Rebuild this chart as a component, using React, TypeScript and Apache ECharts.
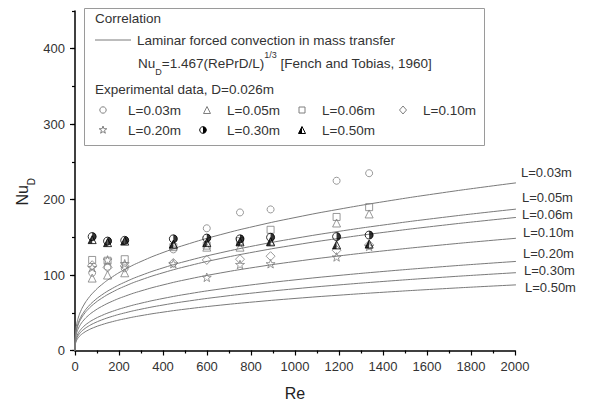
import React, { useEffect, useRef } from 'react';
import * as echarts from 'echarts';

const FONT = 'Arial, "Liberation Sans", Helvetica, sans-serif';

// Correlation: Nu_D = 1.467 (Re Pr D / L)^(1/3)  [Fench and Tobias, 1960]
const COEFF = 1.467;
const D_PIPE = 0.026;
const PR = 2000; // Prandtl (Schmidt) number estimated from the drawn curves
const curveLengths = [0.03, 0.05, 0.06, 0.1, 0.2, 0.3, 0.5];
const curveLabels = ['L=0.03m', 'L=0.05m', 'L=0.06m', 'L=0.10m', 'L=0.20m', 'L=0.30m', 'L=0.50m'];
const curveRe = [0, 0.02, 0.1, 0.3, 0.7, 1.5, 3, 6, 10, 16, 25, 40, 60, 85, 120, 170, 230, 300, 400, 520, 660, 820, 1000, 1200, 1420, 1650, 1880, 2105];

// Experimental data, D = 0.026 m
const expRe = [78, 148, 226, 447, 599, 750, 889, 1189, 1337];
const nuL003 = [103, 111, 109, 134, 162, 183, 187, 225, 235];
const nuL005 = [96, 100, 103, 140, 137, 137, 145, 169, 181];
const nuL006 = [120, 119, 121, 137, 139, 145, 160, 177, 190];
const nuL010 = [113, 110, 112, 116, 120, 121, 125, 133, 140];
const nuL020 = [110, 120, 115, 115, 97, 114, 115, 124, 138];
const nuL030 = [151, 145, 146, 148, 149, 148, 150, 151, 153];
const nuL050 = [147, 143, 145, 141, 143, 144, 144, 140, 141];

const xTickInterval = 200;
const yTickInterval = 100;

// label offsets for the curve end labels (styling only)
const endLabelOffsets = [[0, -10], [1, -12], [1, -3], [2, -6], [2, -8], [3, -2], [4, 3]];

const GRAY = '#7f7f7f';
const CURVE = '#7a7a7a';
const TXT = '#333';

const STAR = 'path://M0,-10L2.351,-3.236L9.511,-3.09L3.804,1.236L5.878,8.09L0,4L-5.878,8.09L-3.804,1.236L-9.511,-3.09L-2.351,-3.236Z';
const HALF_CIRCLE = 'path://M-10,-10L-10,-10M10,10L10,10M0,-10A10,10 0 0 1 0,10Z';
const HALF_TRI = 'path://M-10,-10L-10,-10M10,10L10,10M0,-10L-10,10L0,10Z';

function pairs(vals: number[]) {
  return expRe.map((re, i) => [re, vals[i]]);
}

function openScatter(name: string, vals: number[], symbol: string, size: number) {
  return {
    name,
    type: 'scatter',
    symbol,
    symbolSize: size,
    symbolKeepAspect: true,
    itemStyle: { color: 'rgba(255,255,255,0)', borderColor: GRAY, borderWidth: 1 },
    data: pairs(vals),
    z: 3,
  };
}

function halfScatter(name: string, vals: number[], outline: string, half: string, size: number) {
  return [
    {
      name,
      type: 'scatter',
      symbol: outline,
      symbolSize: size,
      itemStyle: { color: 'rgba(255,255,255,0)', borderColor: '#000', borderWidth: 1 },
      data: pairs(vals),
      z: 4,
    },
    {
      name: name + ' fill',
      type: 'scatter',
      symbol: half,
      symbolSize: size,
      symbolKeepAspect: true,
      itemStyle: { color: '#000', borderWidth: 0 },
      data: pairs(vals),
      z: 4,
    },
  ];
}

function starPts(cx: number, cy: number, R: number) {
  const pts: number[][] = [];
  for (let k = 0; k < 10; k++) {
    const a = -Math.PI / 2 + (k * Math.PI) / 5;
    const r = k % 2 === 0 ? R : R * 0.4;
    pts.push([cx + r * Math.cos(a), cy + r * Math.sin(a)]);
  }
  return pts;
}

function legendIcon(kind: string, cx: number, cy: number): any[] {
  const r = 3.5;
  const open = { fill: 'none', stroke: GRAY, lineWidth: 1 };
  switch (kind) {
    case 'circle':
      return [{ type: 'circle', shape: { cx, cy, r: 3.2 }, style: open }];
    case 'triangle':
      return [{ type: 'polygon', shape: { points: [[cx, cy - r], [cx + r, cy + r], [cx - r, cy + r]] }, style: open }];
    case 'rect':
      return [{ type: 'rect', shape: { x: cx - 3, y: cy - 3, width: 6, height: 6 }, style: open }];
    case 'diamond':
      return [{ type: 'polygon', shape: { points: [[cx, cy - 4], [cx + 3.5, cy], [cx, cy + 4], [cx - 3.5, cy]] }, style: open }];
    case 'star':
      return [{ type: 'polygon', shape: { points: starPts(cx, cy, 4) }, style: open }];
    case 'halfCircle':
      return [
        { type: 'circle', shape: { cx, cy, r: 3.3 }, style: { fill: 'none', stroke: '#000', lineWidth: 1 } },
        { type: 'sector', shape: { cx, cy, r: 3.3, r0: 0, startAngle: -Math.PI / 2, endAngle: Math.PI / 2, clockwise: true }, style: { fill: '#000' } },
      ];
    case 'halfTri':
      return [
        { type: 'polygon', shape: { points: [[cx, cy - r], [cx + r, cy + r], [cx - r, cy + r]] }, style: { fill: 'none', stroke: '#000', lineWidth: 1 } },
        { type: 'polygon', shape: { points: [[cx, cy - r], [cx - r, cy + r], [cx, cy + r]] }, style: { fill: '#000' } },
      ];
  }
  return [];
}

function txt(text: string, x: number, y: number, extra: any = {}) {
  return {
    type: 'text',
    x,
    y,
    z: 20,
    style: {
      text,
      fontSize: 13.5,
      fontFamily: FONT,
      fill: TXT,
      align: 'left',
      textAlign: 'left',
      verticalAlign: 'middle',
      textVerticalAlign: 'middle',
      ...extra,
    },
  };
}

const legendItems = [
  { kind: 'circle', label: curveLabels[0], ix: 103, tx: 128, y: 110 },
  { kind: 'triangle', label: curveLabels[1], ix: 207, tx: 227, y: 110 },
  { kind: 'rect', label: curveLabels[2], ix: 302, tx: 322, y: 110 },
  { kind: 'diamond', label: curveLabels[3], ix: 403, tx: 423, y: 110 },
  { kind: 'star', label: curveLabels[4], ix: 103, tx: 128, y: 130 },
  { kind: 'halfCircle', label: curveLabels[5], ix: 203, tx: 227, y: 130 },
  { kind: 'halfTri', label: curveLabels[6], ix: 302, tx: 322, y: 130 },
];

function buildOption() {
  const lines = curveLengths.map((L, i) => ({
    name: 'corr ' + curveLabels[i],
    type: 'line',
    showSymbol: false,
    symbol: 'none',
    smooth: true,
    clip: false,
    lineStyle: { color: CURVE, width: 1 },
    data: curveRe.map((re) => [re, COEFF * Math.cbrt((re * PR * D_PIPE) / L)]),
    endLabel: {
      show: true,
      formatter: curveLabels[i],
      distance: 5,
      offset: endLabelOffsets[i],
      color: TXT,
      fontSize: 13,
      fontFamily: FONT,
    },
    z: 2,
  }));

  const scatters: any[] = [
    openScatter(curveLabels[0], nuL003, 'circle', 7),
    openScatter(curveLabels[1], nuL005, 'triangle', 8),
    openScatter(curveLabels[2], nuL006, 'rect', 7),
    openScatter(curveLabels[3], nuL010, 'diamond', 9),
    openScatter(curveLabels[4], nuL020, STAR, 9),
    ...halfScatter(curveLabels[5], nuL030, 'circle', HALF_CIRCLE, 8),
    ...halfScatter(curveLabels[6], nuL050, 'triangle', HALF_TRI, 8),
  ];

  const graphicEls: any[] = [
    { type: 'rect', z: 0, shape: { x: 84.5, y: 8.5, width: 400, height: 137 }, style: { fill: 'none', stroke: '#9a9a9a', lineWidth: 1 } },
    txt('Correlation', 95, 18),
    { type: 'line', z: 20, shape: { x1: 95, y1: 40, x2: 131, y2: 40 }, style: { stroke: CURVE, lineWidth: 1 } },
    txt('Laminar forced convection in mass transfer', 137, 40),
    txt('{n|Nu}{s|D}{n|=1.467(RePrD/L)}{p|1/3}{n| [Fench and Tobias, 1960]}', 138, 63, {
      rich: {
        n: { fontSize: 13.5, fontFamily: FONT, fill: TXT, lineHeight: 26 },
        s: { fontSize: 9, fontFamily: FONT, fill: TXT, lineHeight: 8, verticalAlign: 'bottom' },
        p: { fontSize: 9, fontFamily: FONT, fill: TXT, lineHeight: 12, verticalAlign: 'top' },
      },
    }),
    txt('Experimental data, D=0.026m', 95, 89),
  ];
  legendItems.forEach((it) => {
    graphicEls.push(...legendIcon(it.kind, it.ix, it.y).map((e) => ({ ...e, z: 20 })));
    graphicEls.push(txt(it.label, it.tx, it.y));
  });

  const axisLine = { show: true, onZero: false, lineStyle: { color: '#000', width: 1.5 } };
  const tickStyle = { color: '#000', width: 1.2 };
  const labelStyle = { fontSize: 13, color: TXT, fontFamily: FONT, formatter: (v: number) => String(v) };

  return {
    animation: false,
    backgroundColor: '#fff',
    textStyle: { fontFamily: FONT },
    grid: { left: 75, right: 94, top: 11, bottom: 54.5, containLabel: false, outerBoundsMode: 'none' },
    xAxis: {
      type: 'value',
      min: 0,
      max: 2000,
      interval: xTickInterval,
      axisLine,
      axisTick: { show: true, length: 5, inside: false, lineStyle: tickStyle },
      minorTick: { show: true, splitNumber: 2, length: 3, lineStyle: tickStyle },
      axisLabel: { ...labelStyle, margin: 9 },
      splitLine: { show: false },
      minorSplitLine: { show: false },
      name: 'Re',
      nameLocation: 'middle',
      nameGap: 35,
      nameMoveOverlap: false,
      nameTextStyle: { fontSize: 16, color: '#222', fontFamily: FONT },
    },
    yAxis: [
      {
        type: 'value',
        position: 'left',
        min: 0,
        max: 450,
        interval: yTickInterval,
        axisLine,
        axisTick: { show: true, length: 5, inside: false, lineStyle: tickStyle },
        axisLabel: { ...labelStyle, margin: 10, showMaxLabel: false },
        splitLine: { show: false },
        name: '{a|Nu}{b|D}',
        nameLocation: 'middle',
        nameGap: 39,
        nameRotate: 90,
        nameMoveOverlap: false,
        nameTextStyle: {
          color: '#222',
          fontFamily: FONT,
          padding: [0, 22, 0, 0],
          rich: {
            a: { fontSize: 16, color: '#222', fontFamily: FONT, lineHeight: 28 },
            b: { fontSize: 10, color: '#222', fontFamily: FONT, lineHeight: 8, verticalAlign: 'bottom' },
          },
        },
      },
      {
        type: 'value',
        position: 'left',
        min: 0,
        max: 450,
        interval: yTickInterval / 2,
        axisLine: { show: false },
        axisTick: { show: true, length: 3, inside: false, lineStyle: tickStyle },
        axisLabel: { show: false },
        splitLine: { show: false },
      },
    ],
    series: [...lines, ...scatters],
    graphic: { elements: graphicEls },
  };
}

export default function App() {
  const ref = useRef<HTMLDivElement>(null);
  useEffect(() => {
    if (!ref.current) return;
    const chart = echarts.init(ref.current, undefined, { renderer: 'svg' });
    chart.setOption(buildOption() as any);
    return () => chart.dispose();
  }, []);
  return <div ref={ref} style={{ position: 'absolute', left: 0, top: 0, width: 609, height: 405, background: '#fff' }} />;
}
